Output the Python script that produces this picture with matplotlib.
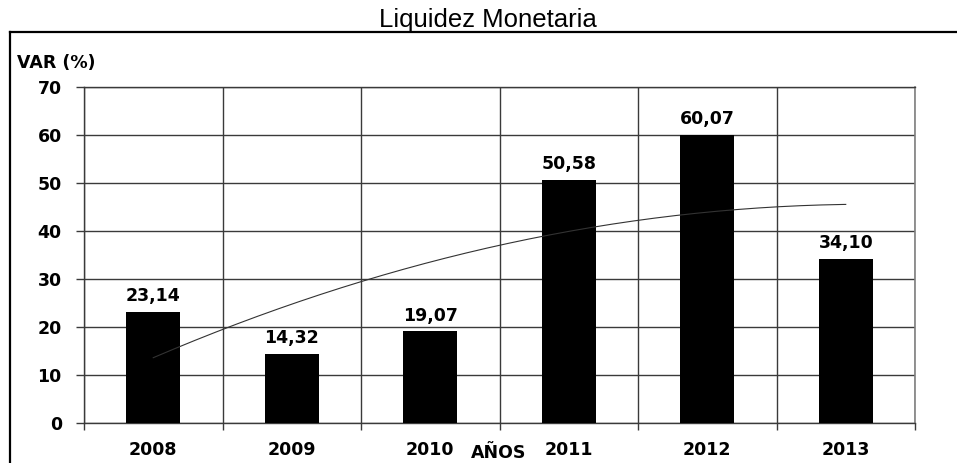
import numpy as np
import matplotlib
matplotlib.use("Agg")
import matplotlib.pyplot as plt
from matplotlib.lines import Line2D

years = ["2008", "2009", "2010", "2011", "2012", "2013"]
values = [23.14, 14.32, 19.07, 50.58, 60.07, 34.10]
yticks = [0, 10, 20, 30, 40, 50, 60, 70]

FS = 12.5
fig = plt.figure(figsize=(9.57, 4.63), dpi=100)
ax = fig.add_axes([84/957, 1-423/463, (915-84)/957, (423-87)/463])

x = np.arange(1, len(years) + 1)
grid_c = "#3a3a3a"

ax.bar(x, values, width=0.39, color="black", zorder=3)

# polynomial (order 2) trend line
coef = np.polyfit(x, values, 2)
xs = np.linspace(x[0], x[-1], 200)
ax.plot(xs, np.polyval(coef, xs), color="#333333", lw=0.8, zorder=4)

for xi, v in zip(x, values):
    ax.annotate(f"{v:.2f}".replace(".", ","), (xi, v), xytext=(0, 5),
                textcoords="offset points", ha="center", va="bottom",
                fontsize=FS, fontweight="bold", family="DejaVu Sans")

ax.set_xlim(0.5, len(years) + 0.5)
ax.set_ylim(0, 70)
ax.set_yticks(yticks)
ax.set_yticklabels([str(t) for t in yticks], fontsize=FS, fontweight="bold")
ax.set_xticks(x)
ax.set_xticklabels(years, fontsize=FS, fontweight="bold")
ax.set_xticks(np.arange(0.5, len(years) + 1, 1), minor=True)

ax.tick_params(axis="x", which="major", length=0, pad=13)
ax.tick_params(axis="x", which="minor", length=5, width=1, color=grid_c, direction="out")
ax.tick_params(axis="y", which="major", length=6, width=1, color=grid_c, direction="out", pad=10)

ax.grid(axis="y", which="major", color=grid_c, lw=1, zorder=1)
ax.grid(axis="x", which="minor", color=grid_c, lw=1, zorder=1)
ax.set_axisbelow(True)

for s in ["top", "bottom", "left"]:
    ax.spines[s].set_color(grid_c)
    ax.spines[s].set_linewidth(1)
ax.spines["right"].set_color("#808080")
ax.spines["right"].set_linewidth(1.2)

fig.text(17/957, 1-63/463, "VAR (%)", fontsize=12.5, fontweight="bold",
         ha="left", va="center")
fig.text(499/957, 1-453/463, "AÑOS", fontsize=FS, fontweight="bold",
         ha="center", va="center")

fig.text(488/957, 1-27/463, "Liquidez Monetaria", fontsize=18.5,
         family="Liberation Sans", ha="center", va="baseline")

# outer frame (top and left)
fig.add_artist(Line2D([10/957, 1], [1-32/463, 1-32/463], color="black", lw=1.6,
                      transform=fig.transFigure))
fig.add_artist(Line2D([10/957, 10/957], [0, 1-32/463], color="black", lw=1.6,
                      transform=fig.transFigure))

fig.savefig("out.png", dpi=100)
